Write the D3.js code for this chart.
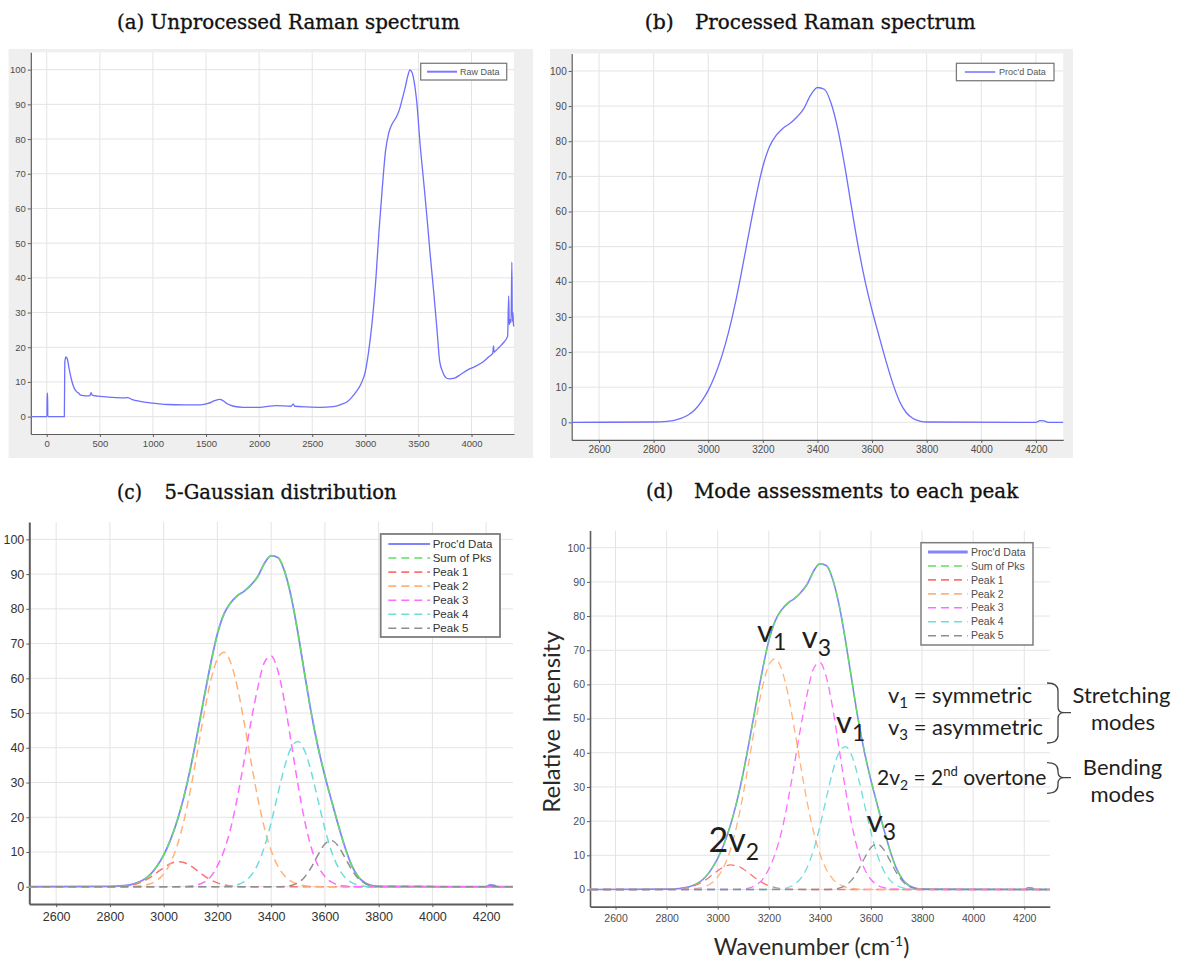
<!DOCTYPE html>
<html>
<head>
<meta charset="utf-8">
<script src="https://cdn.jsdelivr.net/npm/d3@7"></script>
<style>
  body { margin: 0; background: #fff; }
</style>
</head>
<body>
<script>
// ---- panel (a): raw spectrum ----
const rawWn = [-150, 2, 4, 8, 10, 166, 170, 180, 192, 210, 230, 255, 280, 300, 310, 330, 360, 405, 418, 428,
  480, 560, 650, 740, 760, 800, 880, 1000, 1130, 1300, 1445, 1520, 1580, 1630, 1665, 1700, 1760, 1850, 2000, 2160,
  2300, 2322, 2335, 2450, 2570, 2700, 2780, 2830, 2870, 2920, 2960, 3000, 3030, 3060, 3100, 3130, 3160, 3190, 3220, 3255,
  3290, 3320, 3350, 3375, 3400, 3420, 3440, 3460, 3485, 3515, 3550, 3580, 3610, 3645, 3675, 3700, 3730, 3760, 3790, 3840,
  3900, 3960, 4030, 4100, 4160, 4200, 4207, 4212, 4220, 4260, 4300, 4340, 4350, 4355, 4362, 4372, 4380, 4384, 4390, 4395, 4400];
const rawVal = [0, 0, 6.8, 6.8, 0, 0, 15.5, 17.2, 16.8, 14, 11, 8.5, 7.2, 6.8, 6.4, 6.1, 6.0, 6.0, 6.9, 6.2,
  5.9, 5.7, 5.5, 5.4, 5.5, 5.0, 4.4, 3.9, 3.5, 3.4, 3.4, 3.8, 4.6, 5.0, 4.5, 3.7, 3.0, 2.7, 2.7, 3.2,
  3.0, 3.6, 3.0, 2.8, 2.7, 2.9, 3.6, 4.3, 5.5, 7.4, 9.5, 13, 18.5, 26, 40, 54, 66, 76.5, 81.7, 84.5,
  86.2, 88.4, 91.8, 94.8, 98.2, 99.9, 99.2, 96.5, 90.5, 78.8, 67.5, 57.6, 47, 35.6, 25, 16, 12.8, 11.2, 10.9, 11.1,
  12.2, 13.4, 14.4, 15.6, 17.2, 18.3, 20.4, 18.6, 18.8, 20.0, 21.3, 23.2, 34.8, 26.5, 28, 27, 44.5, 27.5, 30, 26.5, 26];

// ---- panels (b)-(d): processed spectrum and the 5 fitted peaks ----
const procWn = [2500, 2800, 2825, 2850, 2875, 2900, 2925, 2950, 2975, 3000, 3025, 3050, 3075, 3100, 3125, 3150,
  3175, 3200, 3225, 3250, 3275, 3300, 3325, 3350, 3375, 3400, 3425, 3450, 3475, 3500, 3525, 3550, 3575, 3600,
  3625, 3650, 3675, 3700, 3725, 3750, 3775, 3800, 4200, 4215, 4230, 4245, 4300];
const procVal = [0, 0.1, 0.15, 0.3, 0.55, 1.1, 2.0, 3.5, 5.9, 9.1, 13.4, 18.9, 25.8, 34.2, 44.0, 54.3,
  64.2, 72.8, 78.6, 81.8, 83.8, 85.1, 86.9, 89.3, 93.1, 95.3, 94.8, 90.8, 83.3, 72.9, 61.1, 49.7, 40.0, 31.9,
  24.7, 17.7, 11.3, 6.1, 2.8, 1.1, 0.35, 0.1, 0, 0.5, 0.4, 0, 0];

const wn = [2500, 2800, 2825, 2850, 2875, 2900, 2925, 2950, 2975, 3000, 3025, 3050, 3075, 3100, 3125, 3150,
  3175, 3200, 3225, 3250, 3275, 3300, 3325, 3350, 3375, 3400, 3425, 3450, 3475, 3500, 3525, 3550, 3575, 3600,
  3625, 3650, 3675, 3700, 3725, 3750, 3775, 3800, 4300];
const sumPks = [0, 0.02, 0.08, 0.19, 0.45, 1.00, 1.97, 3.55, 5.92, 9.17, 13.47, 18.94, 25.81, 34.11, 43.86, 54.23,
  64.1, 72.73, 78.59, 81.85, 83.89, 85.08, 86.84, 89.24, 93.0, 95.3, 94.82, 90.83, 83.31, 72.94, 61.11, 49.67, 39.95, 31.91,
  24.68, 17.72, 11.25, 6.12, 2.78, 1.06, 0.33, 0.08, 0];
const peak1 = [0, 0.02, 0.07, 0.17, 0.40, 0.85, 1.60, 2.70, 4.08, 5.50, 6.65, 7.18, 6.95, 6.01, 4.66, 3.23,
  2.00, 1.11, 0.55, 0.24, 0.10, 0.03, 0.01, 0, 0, 0, 0, 0, 0, 0, 0, 0, 0, 0,
  0, 0, 0, 0, 0, 0, 0, 0, 0];
const peak2 = [0, 0, 0.01, 0.02, 0.05, 0.15, 0.37, 0.85, 1.84, 3.67, 6.82, 11.75, 18.83, 28.0, 38.7, 49.7,
  59.2, 65.6, 67.47, 64.4, 57.2, 47.1, 36.1, 25.6, 16.9, 10.4, 5.92, 3.13, 1.54, 0.70, 0.30, 0.12, 0.04, 0.01,
  0, 0, 0, 0, 0, 0, 0, 0, 0];
const peak3 = [0, 0, 0, 0, 0, 0, 0, 0, 0, 0, 0, 0.02, 0.06, 0.18, 0.5, 1.3,
  2.9, 6.0, 10.5, 17.0, 26.0, 36.5, 47.5, 57.2, 64.6, 66.4, 62.2, 53.1, 41.3, 29.3, 18.9, 11.1, 5.98, 2.92,
  1.30, 0.53, 0.20, 0.07, 0.02, 0.01, 0, 0, 0];
const peak4 = [0, 0, 0, 0, 0, 0, 0, 0, 0, 0, 0, 0, 0, 0, 0, 0,
  0, 0.02, 0.07, 0.21, 0.59, 1.45, 3.23, 6.44, 11.5, 18.5, 26.7, 34.5, 40.1, 41.8, 39.1, 32.8, 24.7, 16.7,
  10.1, 5.51, 2.69, 1.18, 0.46, 0.16, 0.05, 0.01, 0];
const peak5 = [0, 0, 0, 0, 0, 0, 0, 0, 0, 0, 0, 0, 0, 0, 0, 0,
  0, 0, 0, 0, 0, 0, 0, 0, 0, 0, 0, 0.10, 0.37, 1.14, 2.81, 5.65, 9.23, 12.28,
  13.28, 11.68, 8.36, 4.87, 2.30, 0.89, 0.28, 0.07, 0];

const peaks = [peak1, peak2, peak3, peak4, peak5];
const peakNames = ["Peak 1", "Peak 2", "Peak 3", "Peak 4", "Peak 5"];
const peakColors = ["#ff7272", "#ffb37a", "#ff6cff", "#70dcdc", "#8e8e8e"];

const rawTicks = [0, 500, 1000, 1500, 2000, 2500, 3000, 3500, 4000];
const fitTicks = [2600, 2800, 3000, 3200, 3400, 3600, 3800, 4000, 4200];
const yTicks = [0, 10, 20, 30, 40, 50, 60, 70, 80, 90, 100];

// mode labels in panel (d): [main, sub, wavenumber, intensity, size]
const modeLabels = [
  ["2v", "2", 2964, 11.0, 34],
  ["v", "1", 3154, 72.4, 31],
  ["v", "3", 3329, 70.6, 31],
  ["v", "1", 3463, 45.8, 31],
  ["v", "3", 3583, 16.9, 31]
];

const svg = d3.select("body").append("svg")
    .attr("width", 1177)
    .attr("height", 961);

svg.append("rect").attr("width", 1177).attr("height", 961).attr("fill", "#fff");

const tickFamily = "'Liberation Sans', Arial, sans-serif";
const sansFamily = "Lato, 'Open Sans', sans-serif";
const serifFamily = "'DejaVu Serif', 'Liberation Serif', serif";

function makePanel(cfg) {
  const x = d3.scaleLinear().domain(cfg.xDomain).range([cfg.left, cfg.right]);
  const y = d3.scaleLinear().domain([-5, 105]).range([cfg.bottom, cfg.top]);
  const g = svg.append("g");

  if (cfg.bg) {
    g.append("rect")
      .attr("x", cfg.bg[0]).attr("y", cfg.bg[1])
      .attr("width", cfg.bg[2] - cfg.bg[0]).attr("height", cfg.bg[3] - cfg.bg[1])
      .attr("fill", "#efefef");
    g.append("rect")
      .attr("x", cfg.left).attr("y", cfg.top)
      .attr("width", cfg.right - cfg.left).attr("height", cfg.bottom - cfg.top)
      .attr("fill", "#fff");
  }

  g.append("g").selectAll("line")
    .data(cfg.xTicks)
    .join("line")
      .attr("x1", d => x(d)).attr("x2", d => x(d))
      .attr("y1", cfg.top).attr("y2", cfg.bottom)
      .attr("stroke", "#e4e4e4");

  g.append("g").selectAll("line")
    .data(yTicks)
    .join("line")
      .attr("x1", cfg.left).attr("x2", cfg.right)
      .attr("y1", d => y(d)).attr("y2", d => y(d))
      .attr("stroke", "#e4e4e4");

  const xa = g.append("g")
      .attr("transform", "translate(0," + cfg.bottom + ")")
      .call(d3.axisBottom(x).tickValues(cfg.xTicks).tickFormat(d3.format("d"))
        .tickSize(3).tickSizeOuter(0).tickPadding(cfg.xPad));
  const ya = g.append("g")
      .attr("transform", "translate(" + cfg.left + ",0)")
      .call(d3.axisLeft(y).tickValues(yTicks).tickFormat(d3.format("d"))
        .tickSize(3).tickSizeOuter(0).tickPadding(2));

  [xa, ya].forEach(a => {
    a.select(".domain").attr("stroke", "#5c5c5c").attr("stroke-width", cfg.axisW);
    a.selectAll(".tick line").attr("stroke", "#5c5c5c");
    a.selectAll("text")
      .attr("fill", cfg.tickColor)
      .style("font-size", cfg.tickFont + "px")
      .style("font-family", tickFamily);
  });

  return { g, x, y };
}

function drawLine(p, xs, ys, color, width, dash) {
  const pts = xs.map((d, i) => [d, ys[i]]);
  p.g.append("path")
    .datum(pts)
    .attr("fill", "none")
    .attr("stroke", color)
    .attr("stroke-width", width)
    .attr("stroke-dasharray", dash || null)
    .attr("d", d3.line().x(d => p.x(d[0])).y(d => p.y(d[1])).curve(d3.curveMonotoneX));
}

function legend(p, box, entries, o) {
  const lg = p.g.append("g");
  lg.append("rect")
    .attr("x", box[0]).attr("y", box[1])
    .attr("width", box[2] - box[0]).attr("height", box[3] - box[1])
    .attr("fill", "#fff")
    .attr("stroke", "#7d7d7d")
    .attr("stroke-width", o.bw);
  entries.forEach((e, i) => {
    const yy = o.y0 + i * o.step;
    lg.append("line")
      .attr("x1", o.l0).attr("x2", o.l1)
      .attr("y1", yy).attr("y2", yy)
      .attr("stroke", e.color)
      .attr("stroke-width", e.w)
      .attr("stroke-dasharray", e.dash || null);
    lg.append("text")
      .attr("x", o.tx).attr("y", yy)
      .attr("dy", "0.35em")
      .attr("fill", o.color)
      .style("font-family", tickFamily)
      .style("font-size", o.font + "px")
      .text(e.name);
  });
}

function title(x, y, txt, len) {
  svg.append("text")
    .attr("x", x).attr("y", y)
    .attr("textLength", len)
    .attr("lengthAdjust", "spacingAndGlyphs")
    .attr("fill", "#111")
    .attr("stroke", "#111")
    .attr("stroke-width", 0.35)
    .style("font-family", serifFamily)
    .style("font-size", "21px")
    .text(txt);
}

// titles
title(117, 29, "(a) Unprocessed Raman spectrum", 342.7);
title(644.8, 29, "(b)", 29);
title(695, 29, "Processed Raman spectrum", 280.5);
title(117, 499, "(c)", 25);
title(164.6, 499, "5-Gaussian distribution", 232);
title(646, 498, "(d)", 27.3);
title(694, 498, "Mode assessments to each peak", 324.3);

// (a)
const pa = makePanel({ left: 30.8, right: 514, top: 52.3, bottom: 434, xDomain: [-150, 4400], xTicks: rawTicks,
  bg: [8.6, 49, 533, 458], tickFont: 9.5, tickColor: "#4d4d4d", xPad: 3, axisW: 1.2 });
drawLine(pa, rawWn, rawVal, "#6e6eff", 1.3);
legend(pa, [420.7, 63.3, 506.7, 80], [{ name: "Raw Data", color: "#7a7aff", w: 2 }],
  { y0: 71.7, step: 0, l0: 427, l1: 457, tx: 460, font: 9, color: "#555", bw: 1.3 });

// (b)
const pb = makePanel({ left: 571.7, right: 1063.2, top: 53.4, bottom: 439.9, xDomain: [2500, 4300], xTicks: fitTicks,
  bg: [550, 49, 1073, 458], tickFont: 10, tickColor: "#4d4d4d", xPad: 3, axisW: 1.2 });
drawLine(pb, procWn, procVal, "#6e6eff", 1.3);
legend(pb, [956.4, 63.3, 1054, 80.7], [{ name: "Proc'd Data", color: "#7a7aff", w: 1.6 }],
  { y0: 72, step: 0, l0: 964.8, l1: 995.3, tx: 999, font: 9, color: "#555", bw: 1.3 });

// shared entries for (c) and (d)
function fitEntries(procW) {
  return [{ name: "Proc'd Data", color: "#8383ff", w: procW },
    { name: "Sum of Pks", color: "#5fe05f", w: 1.6, dash: "8,5" }]
    .concat(peakNames.map((n, i) => ({ name: n, color: peakColors[i], w: 1.6, dash: "8,5" })));
}

function drawFit(p, w) {
  drawLine(p, procWn, procVal, "#8383ff", w + 0.3);
  drawLine(p, wn, sumPks, "#5fe05f", w, "8,5");
  peaks.forEach((pk, i) => drawLine(p, wn, pk, peakColors[i], w, "8,5"));
}

// (c)
const pc = makePanel({ left: 29.3, right: 513, top: 522, bottom: 904.1, xDomain: [2500, 4300], xTicks: fitTicks,
  bg: null, tickFont: 12.5, tickColor: "#333", xPad: 5, axisW: 2 });
drawFit(pc, 1.5);
legend(pc, [380.7, 534, 500, 637], fitEntries(1.8),
  { y0: 544, step: 14.05, l0: 388.3, l1: 430, tx: 432.7, font: 11.5, color: "#333", bw: 1.8 });

// (d)
const pd = makePanel({ left: 590, right: 1049.8, top: 530.6, bottom: 906.6, xDomain: [2500, 4300], xTicks: fitTicks,
  bg: null, tickFont: 10.5, tickColor: "#4d4d4d", xPad: 5, axisW: 1.6 });
drawFit(pd, 1.3);
legend(pd, [921, 542.7, 1033, 645], fitEntries(3),
  { y0: 552, step: 13.95, l0: 928, l1: 967.7, tx: 971, font: 10.5, color: "#4d4d4d", bw: 1.5 });

// mode labels on the peaks
modeLabels.forEach(m => {
  const t = pd.g.append("text")
    .attr("x", pd.x(m[2])).attr("y", pd.y(m[3]))
    .attr("fill", "#1e1e1e")
    .style("font-family", sansFamily);
  t.append("tspan").style("font-size", m[4] + "px").text(m[0]);
  t.append("tspan").attr("dy", 8).style("font-size", "23px").text(m[1]);
});

// assignment notes with braces
function note(x, y, size, parts) {
  const t = svg.append("text")
    .attr("x", x).attr("y", y)
    .attr("fill", "#1e1e1e")
    .style("font-family", sansFamily)
    .style("font-size", size + "px");
  parts.forEach(pt => {
    t.append("tspan")
      .attr("dy", pt[1])
      .style("font-size", pt[2] ? pt[2] + "px" : null)
      .text(pt[0]);
  });
}
note(888, 703, 22, [["v", 0], ["1", 5, 15], [" = symmetric", -5]]);
note(888, 735, 22, [["v", 0], ["3", 5, 15], [" = asymmetric", -5]]);
note(877, 785, 21, [["2v", 0], ["2", 5, 14], [" = 2", -5], ["nd", -9, 13], [" overtone", 9]]);

[["Stretching", 1121.5, 703], ["modes", 1123, 730], ["Bending", 1122.5, 775], ["modes", 1122.5, 801.7]]
  .forEach(d => {
    svg.append("text")
      .attr("x", d[1]).attr("y", d[2])
      .attr("text-anchor", "middle")
      .attr("fill", "#1e1e1e")
      .style("font-family", sansFamily)
      .style("font-size", "22px")
      .text(d[0]);
  });

function brace(x0, yTop, yBot, yMid) {
  const s = x0 + 11;
  const path = "M" + x0 + "," + yTop +
    " C" + (x0 + 7) + "," + yTop + " " + s + "," + (yTop + 2) + " " + s + "," + (yTop + 8) +
    " L" + s + "," + (yMid - 6) +
    " C" + s + "," + (yMid - 2) + " " + (s + 2) + "," + yMid + " " + (s + 6) + "," + yMid +
    " C" + (s + 2) + "," + yMid + " " + s + "," + (yMid + 2) + " " + s + "," + (yMid + 6) +
    " L" + s + "," + (yBot - 8) +
    " C" + s + "," + (yBot - 2) + " " + (x0 + 7) + "," + yBot + " " + x0 + "," + yBot +
    " M" + (s + 6) + "," + yMid + " H" + (s + 13);
  svg.append("path")
    .attr("d", path)
    .attr("fill", "none")
    .attr("stroke", "#444")
    .attr("stroke-width", 1.3);
}
brace(1047, 683, 743, 712.7);
brace(1047, 762.7, 793.3, 777.7);

// axis titles of (d)
svg.append("text")
  .attr("transform", "translate(560,722) rotate(-90)")
  .attr("text-anchor", "middle")
  .attr("fill", "#2a2a2a")
  .style("font-family", sansFamily)
  .style("font-size", "24px")
  .text("Relative Intensity");

const xt = svg.append("text")
  .attr("x", 811.5).attr("y", 955)
  .attr("text-anchor", "middle")
  .attr("fill", "#2a2a2a")
  .style("font-family", sansFamily)
  .style("font-size", "23px");
xt.append("tspan").text("Wavenumber (cm");
xt.append("tspan").attr("dy", -9).style("font-size", "14px").text("-1");
xt.append("tspan").attr("dy", 9).text(")");
</script>
</body>
</html>
